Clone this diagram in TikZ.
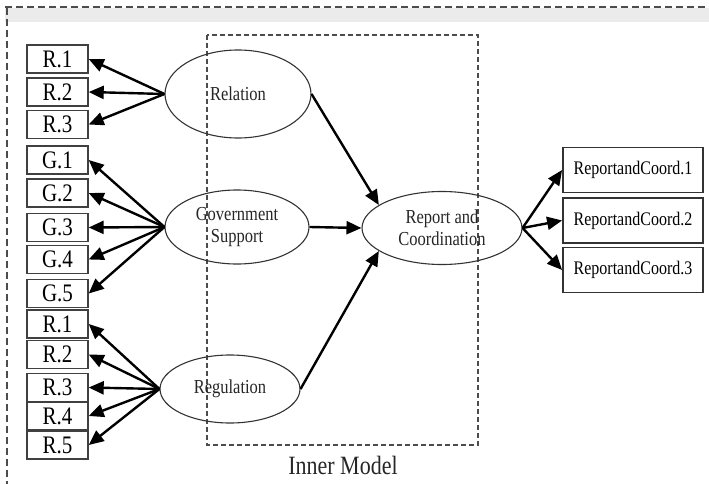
\documentclass[tikz,border=0pt]{standalone}
\usepackage{fontspec}
\usepackage{graphicx}
\setmainfont{Liberation Serif}
\usetikzlibrary{arrows.meta,shapes.geometric}
\newcommand{\vstr}[1]{\scalebox{1}[1.2]{#1}}
\begin{document}
\begin{tikzpicture}[x=1pt,y=-1pt,
  arr/.style={line width=2.4pt,-{Triangle[length=15pt,width=13pt]}},
  ind/.style={draw=black!75,line width=1.4pt,minimum width=61pt,minimum height=28pt,inner sep=0pt,font=\fontsize{21}{21}\selectfont},
  rbox/.style={draw=black!80,line width=1.8pt,minimum width=140pt,minimum height=45pt,inner sep=0pt,font=\fontsize{16}{16}\selectfont},
  lat/.style={draw=black!80,line width=1.1pt,ellipse,inner sep=0pt,font=\fontsize{16.5}{22}\selectfont,align=center,text=black!85},
  frame/.style={draw=black!70,line width=1.3pt,dash pattern=on 7pt off 4pt}
]
\useasboundingbox (0,0) rectangle (709,484);
% top band
\fill[black!8] (5,8) rectangle (709,22);
\draw[frame] (5,7) -- (709,7);
\draw[frame] (7,8) -- (7,484);
% inner model frame
\draw[draw=black!70,line width=1.5pt,dash pattern=on 5pt off 3pt] (207,35) rectangle (478,445);
\node[font=\fontsize{22}{22}\selectfont,text=black!85] (im) at (343,465) {\vstr{Inner Model}};
% indicator boxes
\node[ind] (r1) at (57.5,59) {\vstr{R.1}};
\node[ind] (r2) at (57.5,92) {\vstr{R.2}};
\node[ind] (r3) at (57.5,124.5) {\vstr{R.3}};
\node[ind] (g1) at (57.5,160) {\vstr{G.1}};
\node[ind] (g2) at (57.5,193) {\vstr{G.2}};
\node[ind] (g3) at (57.5,227.5) {\vstr{G.3}};
\node[ind] (g4) at (57.5,259.5) {\vstr{G.4}};
\node[ind] (g5) at (57.5,293.5) {\vstr{G.5}};
\node[ind] (q1) at (57.5,324) {\vstr{R.1}};
\node[ind] (q2) at (57.5,354.5) {\vstr{R.2}};
\node[ind] (q3) at (57.5,387.5) {\vstr{R.3}};
\node[ind] (q4) at (57.5,416) {\vstr{R.4}};
\node[ind] (q5) at (57.5,445) {\vstr{R.5}};
% latent variables
\node[lat,minimum width=146pt,minimum height=88pt] (rel) at (238,94) {\vstr{Relation}};
\node[lat,minimum width=144pt,minimum height=74pt] (gov) at (237,227) {\vstr{Government}\\\vstr{Support}};
\node[lat,minimum width=140pt,minimum height=68pt] (reg) at (230,389) {\vstr{Regulation}};
\node[lat,minimum width=160pt,minimum height=73pt] (rep) at (442,228) {\vstr{Report and}\\\vstr{Coordination}};
% right boxes
\node[rbox] (c1) at (633,170) {\vstr{ReportandCoord.1}};
\node[rbox] (c2) at (633,220.5) {\vstr{ReportandCoord.2}};
\node[rbox] (c3) at (633,270) {\vstr{ReportandCoord.3}};
% outer arrows
\foreach \t in {r1,r2,r3} \draw[arr] (rel.west) -- (\t.east);
\foreach \t in {g1,g2,g3,g4,g5} \draw[arr] (gov.west) -- (\t.east);
\foreach \t in {q1,q2,q3,q4,q5} \draw[arr] (reg.west) -- (\t.east);
\draw[arr] (rep.east) -- (c1.west);
\draw[arr] (rep.east) -- (c2.west);
\draw[arr] (rep.east) -- (c3.west);
% inner arrows
\draw[arr] (rel.east) -- (rep.160);
\draw[arr] (gov.east) -- (rep.west);
\draw[arr] (reg.east) -- (rep.200);
\end{tikzpicture}
\end{document}
